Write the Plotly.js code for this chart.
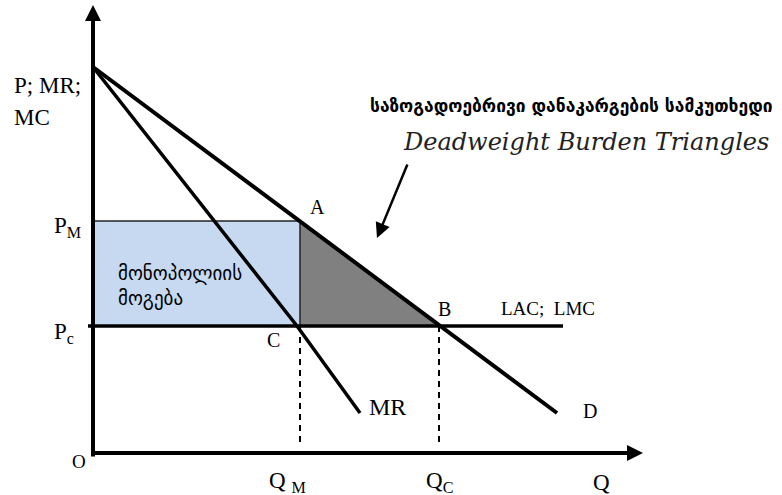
<!DOCTYPE html>
<html>
<head>
<meta charset="utf-8">
<script src="https://cdn.plot.ly/plotly-3.0.1.min.js"></script>
<style>html,body{margin:0;padding:0;background:#fff;}#chart{width:782px;height:495px;}</style>
</head>
<body>
<div id="chart"></div>
<script>
// Economic values (arbitrary units)
const P_MAX = 19.3;          // price intercept of D and MR
const P_M = 11.6;            // monopoly price
const P_C = 6.35;            // competitive price = LAC = LMC
const Q_M = 10.35;           // monopoly quantity
const Q_C = 17.3;            // competitive quantity
const demandQ = [0, 23.2];
const demandP = [P_MAX, 2.0];
const mrQ = [0, 10.2, 13.35];
const mrP = [P_MAX, P_C, 2.0];
const lacQ = [-0.25, 23.5];
const axisTop = 22.4;
const axisRight = 27.5;

const black = '#000000';
const traces = [];
// monopoly profit rectangle
traces.push({x:[0, Q_M, Q_M, 0, 0], y:[P_C, P_C, P_M, P_M, P_C], mode:'lines', fill:'toself',
  fillcolor:'#c6d9f1', line:{width:0}, hoverinfo:'skip'});
// deadweight triangle
traces.push({x:[Q_M, Q_M, Q_C, Q_M], y:[P_C, P_M, P_C, P_C], mode:'lines', fill:'toself',
  fillcolor:'#808080', line:{width:0}, hoverinfo:'skip'});
// P_M line (top of rectangle)
traces.push({x:[0, Q_M], y:[P_M, P_M], mode:'lines', line:{color:'#222', width:1.5}});
// right edge of rectangle
traces.push({x:[Q_M, Q_M], y:[P_M, P_C], mode:'lines', line:{color:'#222', width:1.5}});
// dashed guides
traces.push({x:[Q_M, Q_M], y:[P_C, 0.3], mode:'lines', line:{color:black, width:2, dash:'6px,5px'}});
traces.push({x:[Q_C, Q_C], y:[P_C, 0.3], mode:'lines', line:{color:black, width:2, dash:'6px,5px'}});
// LAC = LMC
traces.push({x:lacQ, y:[P_C, P_C], mode:'lines', line:{color:black, width:3.5}});
// MR
traces.push({x:mrQ, y:mrP, mode:'lines', line:{color:black, width:3.5}});
// Demand
traces.push({x:demandQ, y:demandP, mode:'lines', line:{color:black, width:4}});

const serif = 'Liberation Serif';
function lab(text, x, y, size, extra){
  return Object.assign({text:text, x:x, y:y, xref:'x', yref:'y', showarrow:false,
    font:{family:serif, size:size, color:black}, xanchor:'center', yanchor:'middle'}, extra||{});
}
const annotations = [
  // axes with arrowheads
  {x:0, y:axisTop, ax:0, ay:-0.25, xref:'x', yref:'y', axref:'x', ayref:'y', text:'', showarrow:true,
    arrowhead:2, arrowwidth:4, arrowsize:0.8, arrowcolor:black},
  {x:axisRight, y:0, ax:-0.1, ay:0, xref:'x', yref:'y', axref:'x', ayref:'y', text:'', showarrow:true,
    arrowhead:2, arrowwidth:4, arrowsize:0.8, arrowcolor:black},
  // deadweight pointer
  {x:14.2, y:10.75, ax:15.75, ay:14.5, xref:'x', yref:'y', axref:'x', ayref:'y', text:'', showarrow:true,
    arrowhead:2, arrowwidth:2.5, arrowsize:1.2, arrowcolor:black},
  lab('P; MR;', -4.05, 18.4, 23, {xanchor:'left'}),
  lab('MC', -4.05, 16.8, 23, {xanchor:'left'}),
  lab('P<sub>M</sub>', -2.05, 11.3, 23, {xanchor:'left'}),
  lab('P<sub>c</sub>', -2.05, 6.0, 23, {xanchor:'left'}),
  lab('O', -0.7, -0.4, 19),
  lab('A', 11.2, 12.3, 20),
  lab('B', 17.55, 7.2, 20),
  lab('C', 9.0, 5.65, 20),
  lab('LAC;  LMC', 22.75, 7.25, 19),
  lab('MR', 14.7, 2.3, 24),
  lab('D', 24.85, 2.1, 20),
  lab('Q <sub>M</sub>', 9.7, -1.45, 23),
  lab('Q<sub>C</sub>', 17.3, -1.45, 23),
  lab('Q', 25.4, -1.45, 23),
  lab('<b>საზოგადოებრივი დანაკარგების სამკუთხედი</b>', 23.9, 17.35, 17.4,
      {font:{family:'DejaVu Sans', size:17.4, color:black}}),
  lab('<i>Deadweight Burden Triangles</i>', 24.65, 15.55, 24,
      {font:{family:'DejaVu Serif', size:24, color:'#222'}}),
  lab('მონოპოლიის', 1.15, 9.0, 19, {xanchor:'left', font:{family:'DejaVu Sans', size:19, color:black}}),
  lab('მოგება', 1.15, 7.75, 19, {xanchor:'left', font:{family:'DejaVu Sans', size:19, color:black}})
];

const layout = {
  width:782, height:495, margin:{l:0, r:0, t:0, b:0},
  paper_bgcolor:'#ffffff', plot_bgcolor:'#ffffff', showlegend:false,
  xaxis:{range:[-4.65, 34.45], visible:false, fixedrange:true},
  yaxis:{range:[-2.1, 22.65], visible:false, fixedrange:true},
  annotations:annotations
};
Plotly.newPlot('chart', traces, layout, {staticPlot:true, displayModeBar:false});
</script>
</body>
</html>
